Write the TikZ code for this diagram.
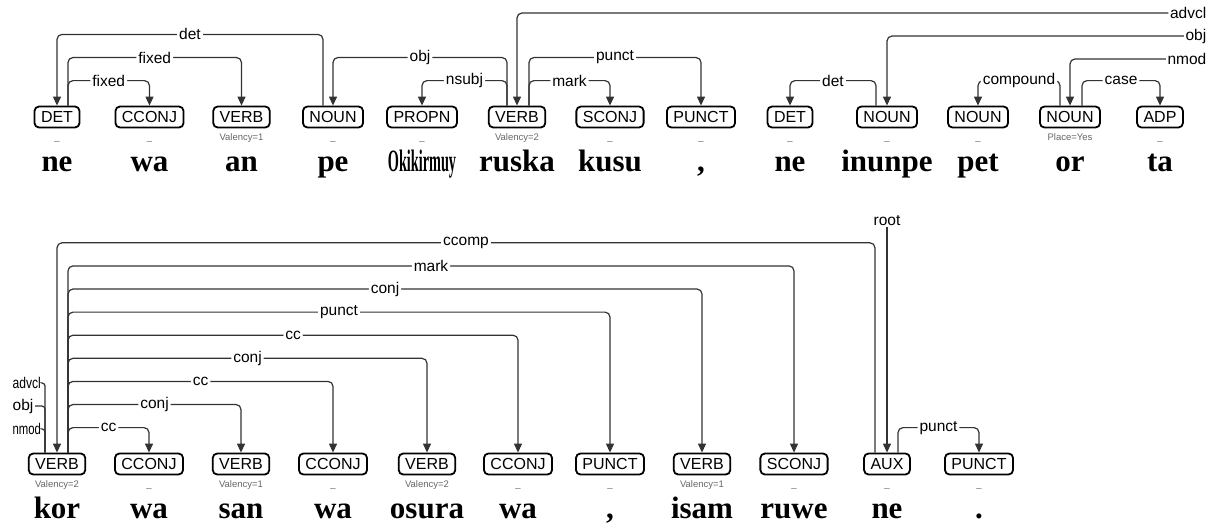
\documentclass[tikz,border=0pt]{standalone}
\usepackage{fontspec}
\setmainfont{Liberation Serif}
\setsansfont{Liberation Sans}
\usetikzlibrary{arrows.meta}

% one dependency arc: head node, x offset at the head, dependent node, level, relation
\newcommand\deparc[5]{%
  \draw[arcline] ([xshift=#2pt]#1.north) -- ++(0,{-(25+23.1*(#4-1))})
    -| node[pos=0.25,arclabel]{#5} (#3.north);}

% one token: name, x, row (box centre y), POS tag, features, word form
\newcommand\token[6]{%
  \node[posbox] (#1) at (#2,#3) {#4};
  \node[feat] (#1f) at (#2,#3+23.5) {#5};
  \node[word] (#1w) at (#2,#3+54) {#6};}

\begin{document}
\begin{tikzpicture}[x=1pt,y=-1pt,
  posbox/.style={draw, line width=1.8pt, rounded corners=4.5pt,
    font=\sffamily\fontsize{16}{16}\selectfont, inner xsep=6.5pt, inner ysep=0pt,
    minimum height=21pt, text height=11.6pt, text depth=0pt},
  feat/.style={anchor=base, inner sep=0pt, text=black!60,
    font=\sffamily\fontsize{9.5}{9.5}\selectfont},
  word/.style={anchor=base, inner sep=0pt, font=\bfseries\fontsize{31}{31}\selectfont},
  arcline/.style={line width=1.2pt, draw=black!80, rounded corners=5pt,
    -{Triangle[length=9pt,width=8pt]}},
  plainline/.style={line width=1.2pt, draw=black!80, rounded corners=3pt},
  arclabel/.style={fill=white, inner xsep=2pt, inner ysep=0pt, text=black,
    font=\sffamily\fontsize{15.5}{15.5}\selectfont},
  edgelabel/.style={inner xsep=1.5pt, inner ysep=0pt, text=black,
    font=\sffamily\fontsize{15.5}{15.5}\selectfont}]
\useasboundingbox (0,0) rectangle (1218,528);

% first line of the sentence
\token{t1}{57}{117}{DET}{\_}{ne}
\token{t2}{149.5}{117}{CCONJ}{\_}{wa}
\token{t3}{241.5}{117}{VERB}{Valency=1}{an}
\token{t4}{333}{117}{NOUN}{\_}{pe}
\token{t5}{422}{117}{PROPN}{\_}{\scalebox{0.46}[1]{Okikirmuy}}
\token{t6}{517}{117}{VERB}{Valency=2}{ruska}
\token{t7}{610}{117}{SCONJ}{\_}{kusu}
\token{t8}{701}{117}{PUNCT}{\_}{,}
\token{t9}{790}{117}{DET}{\_}{ne}
\token{t10}{887}{117}{NOUN}{\_}{inunpe}
\token{t11}{978}{117}{NOUN}{\_}{pet}
\token{t12}{1070}{117}{NOUN}{Place=Yes}{or}
\token{t13}{1160}{117}{ADP}{\_}{ta}

% second line of the sentence
\token{s1}{57}{464}{VERB}{Valency=2}{kor}
\token{s2}{149}{464}{CCONJ}{\_}{wa}
\token{s3}{241}{464}{VERB}{Valency=1}{san}
\token{s4}{333}{464}{CCONJ}{\_}{wa}
\token{s5}{427}{464}{VERB}{Valency=2}{osura}
\token{s6}{518}{464}{CCONJ}{\_}{wa}
\token{s7}{610}{464}{PUNCT}{\_}{,}
\token{s8}{702}{464}{VERB}{Valency=1}{isam}
\token{s9}{794}{464}{SCONJ}{\_}{ruwe}
\token{s10}{887}{464}{AUX}{\_}{ne}
\token{s11}{979}{464}{PUNCT}{\_}{.}

% arcs of the first line
\deparc{t4}{-10}{t1}{3}{det}
\deparc{t1}{11}{t3}{2}{fixed}
\deparc{t1}{11}{t2}{1}{fixed}
\deparc{t6}{-10}{t4}{2}{obj}
\deparc{t6}{-10}{t5}{1}{nsubj}
\deparc{t6}{12}{t8}{2}{punct}
\deparc{t6}{12}{t7}{1}{mark}
\deparc{t10}{-11}{t9}{1}{det}
\deparc{t12}{-10}{t11}{1}{compound}
\deparc{t12}{12}{t13}{1}{case}

% arcs whose head lies on the second line
\node[edgelabel, anchor=east] (advclR) at (1208,13) {advcl};
\node[edgelabel, anchor=east] (objR) at (1208,36) {obj};
\node[edgelabel, anchor=east] (nmodR) at (1208,59) {nmod};
\draw[arcline] (advclR.west) -| (t6.north);
\draw[arcline] (objR.west) -| (t10.north);
\draw[arcline] (nmodR.west) -| (t12.north);

% arcs of the second line
\deparc{s10}{-12}{s1}{9}{ccomp}
\deparc{s1}{11}{s9}{8}{mark}
\deparc{s1}{11}{s8}{7}{conj}
\deparc{s1}{11}{s7}{6}{punct}
\deparc{s1}{11}{s6}{5}{cc}
\deparc{s1}{11}{s5}{4}{conj}
\deparc{s1}{11}{s4}{3}{cc}
\deparc{s1}{11}{s3}{2}{conj}
\deparc{s1}{11}{s2}{1}{cc}
\deparc{s10}{11}{s11}{1}{punct}

% root
\node[edgelabel, inner ysep=1pt] (rootlbl) at (887,221) {root};
\draw[arcline] (rootlbl.south) -- (s10.north);

% dependents that continue on the first line
\node[edgelabel, anchor=west] (advclL) at (11,383) {\scalebox{0.78}[1]{advcl}};
\node[edgelabel, anchor=west] (objL) at (11,406) {obj};
\node[edgelabel, anchor=west] (nmodL) at (11,429) {\scalebox{0.73}[1]{nmod}};
\draw[plainline] ([xshift=-12pt]s1.north) |- (advclL.east);
\draw[plainline] ([xshift=-12pt]s1.north) |- (objL.east);
\draw[plainline] ([xshift=-12pt]s1.north) |- (nmodL.east);
\end{tikzpicture}
\end{document}
